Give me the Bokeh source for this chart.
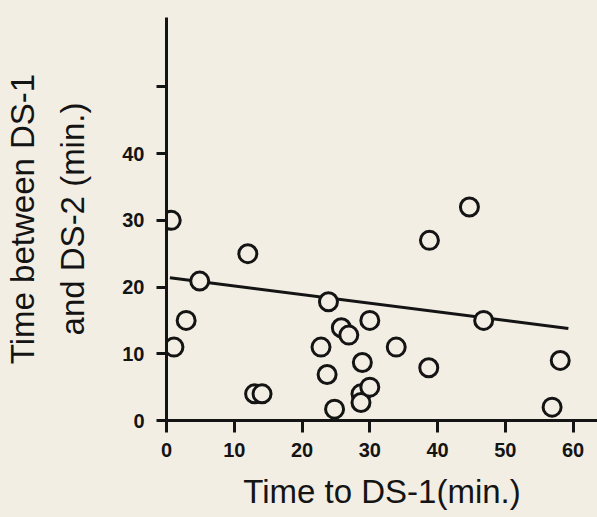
from bokeh.plotting import figure
from bokeh.models import ColumnDataSource, FixedTicker, Range1d
from bokeh.embed import file_html
from bokeh.resources import INLINE

# Data
time_to_ds1 = [0.7, 1.1, 2.9, 4.9, 12.0, 13.0, 14.1, 22.8, 23.7, 23.9, 24.8, 25.8,
               26.9, 28.9, 28.7, 28.7, 30.0, 30.0, 33.9, 38.7, 38.8, 44.7, 46.8,
               56.9, 58.1]
time_between = [30.0, 11.0, 15.0, 20.9, 25.0, 4.0, 4.0, 11.0, 6.9, 17.8, 1.7, 13.9,
                12.8, 8.7, 4.0, 2.7, 5.0, 15.0, 11.0, 7.9, 27.0, 32.0, 15.0,
                2.0, 9.0]
fit_x = [0.5, 59.3]
fit_y = [21.4, 13.8]
x_ticks = [0, 10, 20, 30, 40, 50, 60]
y_ticks = [0, 10, 20, 30, 40, 50]
y_tick_overrides = {50: ""}

BG = "#f3eee3"
INK = "#141414"
FONT = "Liberation Sans"

p = figure(width=597, height=517, output_backend="svg", toolbar_location=None,
           x_range=Range1d(0, 63.6), y_range=Range1d(0, 60.4),
           min_border_left=166, min_border_right=0, min_border_top=17,
           min_border_bottom=97)
p.background_fill_color = BG
p.border_fill_color = BG
p.outline_line_color = None
p.grid.visible = False

src = ColumnDataSource(dict(x=time_to_ds1, y=time_between))
p.line(fit_x, fit_y, line_color=INK, line_width=3)
p.scatter("x", "y", source=src, size=18, marker="circle",
          fill_color=BG, line_color=INK, line_width=3)

xa = p.xaxis[0]
xa.ticker = FixedTicker(ticks=x_ticks)
xa.axis_label = "Time to DS-1(min.)"
ya = p.yaxis[0]
ya.ticker = FixedTicker(ticks=y_ticks)
ya.major_label_overrides = y_tick_overrides
ya.axis_label = "Time between DS-1\nand DS-2 (min.)"

for ax in (xa, ya):
    ax.axis_line_width = 3
    ax.axis_line_color = INK
    ax.major_tick_line_width = 3
    ax.major_tick_line_color = INK
    ax.major_tick_in = 0
    ax.minor_tick_line_color = None
    ax.major_label_text_font = FONT
    ax.major_label_text_font_style = "bold"
    ax.major_label_text_font_size = "20px"
    ax.major_label_text_color = INK
    ax.axis_label_text_font = FONT
    ax.axis_label_text_font_style = "normal"
    ax.axis_label_text_font_size = "33px"
    ax.axis_label_text_color = INK

xa.major_tick_out = 12
xa.major_label_standoff = 10
xa.axis_label_standoff = 13
ya.major_tick_out = 10
ya.major_label_standoff = 12
ya.axis_label_standoff = 28
ya.axis_label_text_line_height = 1.35
ya.major_label_orientation = "horizontal"

html = file_html(p, INLINE)
html = html.replace("<head>", "<head><style>body{background:%s}</style>" % BG, 1)
open("out.html", "w").write(html)
